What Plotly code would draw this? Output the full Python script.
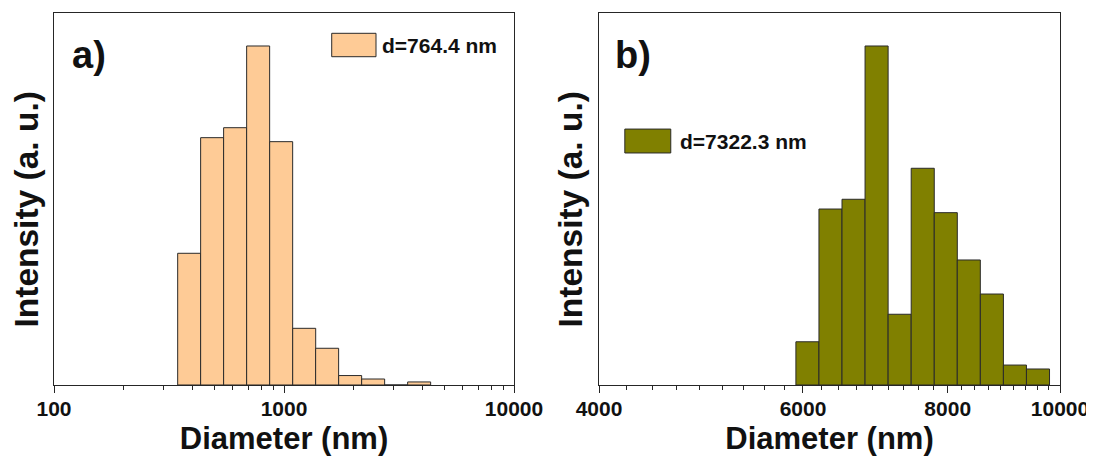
import numpy as np
import plotly.graph_objects as go

# ---------------- data ----------------
# panel a) bin-centre diameters (nm) and intensities (%)
diam_a = [387, 487, 613, 772, 972, 1224, 1540, 1939, 2441, 3073, 3869]
int_a = [9.90, 18.59, 19.34, 25.48, 18.29, 4.26, 2.76, 0.71, 0.45, 0.0, 0.23]
label_a = "d=764.4 nm"
ticks_a = [100, 1000, 10000]

# panel b)
diam_b = [6053, 6337, 6634, 6945, 7271, 7612, 7969, 8342, 8734, 9143, 9572]
int_b = [2.97, 12.09, 12.76, 23.29, 4.86, 14.89, 11.84, 8.59, 6.25, 1.37, 1.10]
label_b = "d=7322.3 nm"
ticks_b = [4000, 6000, 8000, 10000]

panel_labels = ["a)", "b)"]
x_title = "Diameter (nm)"
y_title = "Intensity (a. u.)"

# ---------------- style ----------------
FONT = "Arial, Liberation Sans, sans-serif"
C_A = "#FECB96"
C_B = "#808000"
EDGE = "#2a2a2a"
AX = "#262626"


def minor_vals(majors, n=8):
    out = []
    for a, b in zip(majors[:-1], majors[1:]):
        step = (b - a) / (n + 1)
        out += [a + step * i for i in range(1, n + 1)]
    return out


def bin_width(d):
    return float(np.mean(np.diff(np.log10(d))))


fig = go.Figure()
fig.add_trace(go.Bar(
    x=np.log10(diam_a), y=int_a, width=bin_width(diam_a),
    marker=dict(color=C_A, line=dict(color=EDGE, width=1)),
    xaxis="x", yaxis="y", showlegend=False, name=label_a))
fig.add_trace(go.Bar(
    x=np.log10(diam_b), y=int_b, width=bin_width(diam_b),
    marker=dict(color=C_B, line=dict(color=EDGE, width=1)),
    xaxis="x2", yaxis="y2", showlegend=False, name=label_b))


def xaxis(domain, majors, anchor):
    return dict(
        domain=domain, anchor=anchor, type="linear",
        range=[np.log10(majors[0]), np.log10(majors[-1])],
        tickmode="array", tickvals=list(np.log10(majors)),
        ticktext=[str(v) for v in majors],
        ticks="outside", ticklen=7, tickwidth=1.3, tickcolor=AX,
        ticklabelstandoff=-2,
        minor=dict(tickmode="array", tickvals=list(np.log10(minor_vals(majors))),
                   ticks="outside", ticklen=4, tickwidth=1.2, tickcolor=AX, showgrid=False),
        tickfont=dict(family=FONT, size=21, color="#111", weight="bold"),
        showline=True, linecolor=AX, linewidth=1.4, mirror=True,
        showgrid=False, zeroline=False, automargin=False,
        title=dict(text=x_title, standoff=10,
                   font=dict(family=FONT, size=31, color="#111", weight="bold")),
    )


def yaxis(domain, top, anchor):
    return dict(
        domain=domain, anchor=anchor, range=[0, top],
        showticklabels=False, ticks="",
        showline=True, linecolor=AX, linewidth=1.4, mirror=True,
        showgrid=False, zeroline=False, automargin=False,
    )


# the page body adds an 8px offset; figure is sized so the page fits the window
ydom = [0.15848, 0.98884]
fig.update_layout(
    width=1086, height=448,
    margin=dict(l=0, r=0, t=0, b=0),
    paper_bgcolor="white", plot_bgcolor="white",
    xaxis=xaxis([0.04236, 0.46593], ticks_a, "y"),
    yaxis=yaxis(ydom, max(int_a) * 372 / 339, "x"),
    xaxis2=xaxis([0.54420, 0.96869], ticks_b, "y2"),
    yaxis2=yaxis(ydom, max(int_b) * 372 / 339, "x2"),
    barmode="overlay",
)

# y-axis titles (placed slightly below the centre, as in the original)
for xp in (0.0166, 0.5184):
    fig.add_annotation(xref="paper", yref="paper", x=xp, y=0.5502,
                       xanchor="center", yanchor="middle", textangle=-90,
                       text=y_title, showarrow=False,
                       font=dict(family=FONT, size=33.5, color="#111", weight="bold"))

# legends (swatch + text) and panel letters
legend_specs = [
    ("x", "y", C_A, label_a, (0.6037, 0.7000, 0.8825, 0.9454), 0.7087),
    ("x2", "y2", C_B, label_b, (0.0560, 0.1557, 0.6237, 0.6880), 0.1714),
]
for xr, yr, col, txt, (x0, x1, y0, y1), tx in legend_specs:
    fig.add_shape(type="rect", xref=f"{xr} domain", yref=f"{yr} domain",
                  x0=x0, x1=x1, y0=y0, y1=y1,
                  fillcolor=col, line=dict(color=EDGE, width=1))
    fig.add_annotation(xref=f"{xr} domain", yref=f"{yr} domain",
                       x=tx, y=(y0 + y1) / 2, xanchor="left", yanchor="middle",
                       text=txt, showarrow=False,
                       font=dict(family=FONT, size=21, color="#111", weight="bold"))

for xr, yr, lab, lx in [("x", "y", panel_labels[0], 0.035), ("x2", "y2", panel_labels[1], 0.031)]:
    fig.add_annotation(xref=f"{xr} domain", yref=f"{yr} domain",
                       x=lx, y=0.888, xanchor="left", yanchor="middle",
                       text=lab, showarrow=False,
                       font=dict(family=FONT, size=38, color="#111", weight="bold"))

fig.write_html("out.html")
